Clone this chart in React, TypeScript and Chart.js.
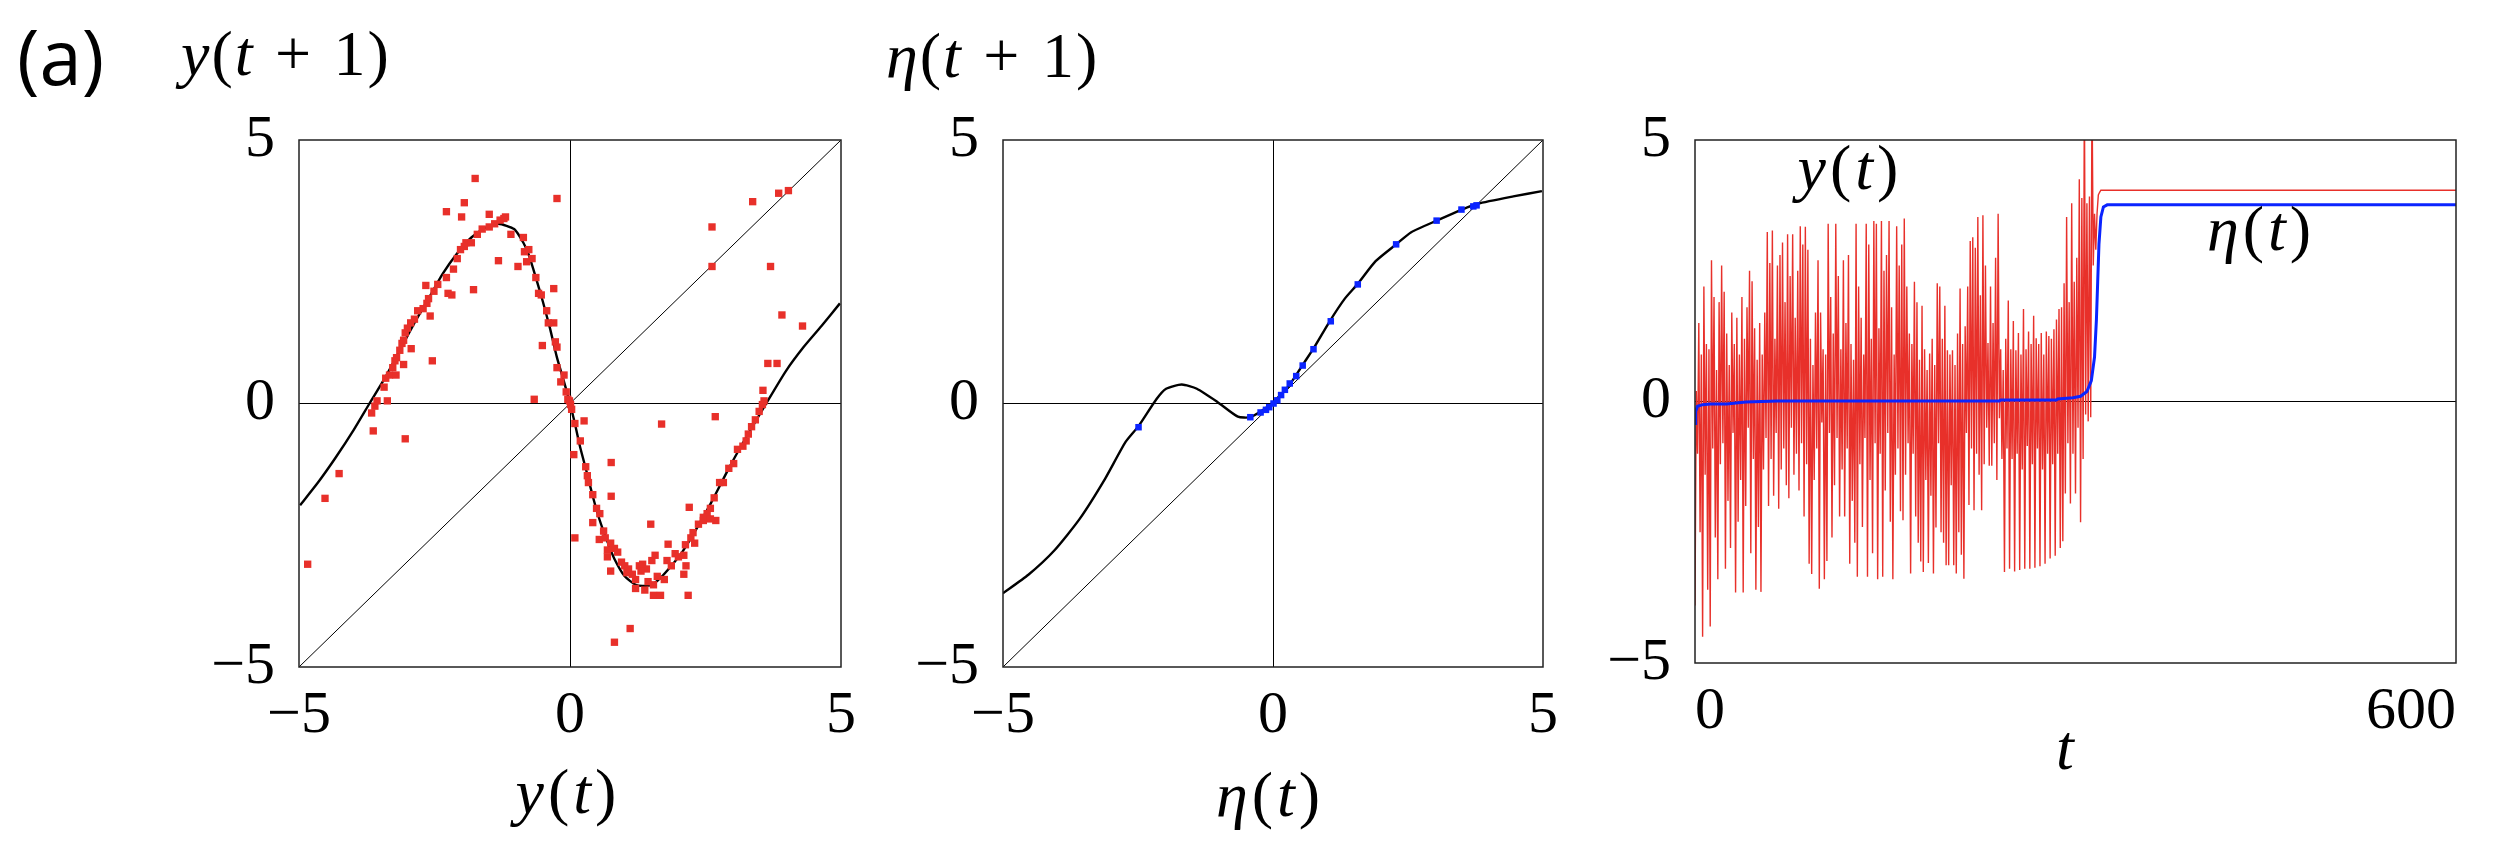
import React, { useEffect, useRef } from "react";
import { Chart, registerables } from "chart.js";

Chart.register(...registerables);

// ---------- tick values ----------
const mapTicks = [-5, 0, 5];
const timeTicks = [0, 600];
const diagonalEnds = [-5, 5];

// ---------- panel 1 : return map of y ----------
const yMapX = [-4.98, -4.65, -4.32, -3.99, -3.7, -3.4, -3.14, -2.87, -2.61, -2.35, -2.08, -1.82, -1.55, -1.32, -1.03, -0.86, -0.76, -0.63, -0.5, -0.37, -0.24, -0.11, 0.0, 0.09, 0.19, 0.29, 0.42, 0.55, 0.69, 0.82, 1.01, 1.21, 1.34, 1.51, 1.67, 1.87, 2.07, 2.27, 2.6, 2.93, 3.25, 3.62, 3.98, 4.31, 4.64, 4.98];
const yMapY = [-1.93, -1.5, -1.02, -0.5, 0.0, 0.51, 1.01, 1.53, 1.99, 2.46, 2.85, 3.15, 3.34, 3.41, 3.31, 3.05, 2.82, 2.39, 1.93, 1.43, 0.87, 0.41, 0.0, -0.38, -0.84, -1.23, -1.76, -2.22, -2.62, -2.95, -3.28, -3.44, -3.46, -3.44, -3.31, -3.08, -2.82, -2.49, -1.89, -1.23, -0.64, 0.0, 0.61, 1.07, 1.47, 1.9];

const yPoints: [number, number][] = [
  [-1.75, 4.27], [-0.24, 3.89], [-1.95, 3.81], [-2.28, 3.64], [-2.0, 3.54], [-1.49, 3.59], [-1.19, 3.54],
  [-1.32, 2.71], [-0.96, 2.6], [-1.78, 2.16], [-2.66, 2.24], [-0.3, 2.18], [-2.54, 0.81], [-0.51, 1.1],
  [-0.66, 0.08], [-3.37, 0.05], [-3.63, -0.52], [-3.04, -0.67], [-4.26, -1.33], [-4.52, -1.8], [-4.84, -3.05],
  [2.62, 3.35], [3.37, 3.83], [3.85, 3.99], [4.03, 4.04], [2.62, 2.6], [3.7, 2.6], [3.91, 1.68], [4.29, 1.47],
  [3.65, 0.76], [3.82, 0.76], [3.56, 0.25], [2.68, -0.25], [1.69, -0.39], [0.26, -0.33], [0.07, -0.97],
  [0.76, -1.12], [0.76, -1.76], [0.09, -2.55], [1.49, -2.29], [2.2, -1.97], [2.18, -3.64], [1.11, -4.27],
  [0.82, -4.53], [2.1, -3.24], [2.14, -3.08],
  [-3.66, -0.18], [-3.6, -0.05], [-3.56, 0.05], [-3.43, 0.31], [-3.4, 0.48], [-3.33, 0.54], [-3.27, 0.68],
  [-3.23, 0.81], [-3.2, 0.87], [-3.14, 1.01], [-3.1, 1.14], [-3.07, 1.2], [-3.04, 1.34], [-3.0, 1.43],
  [-2.94, 1.53], [-2.87, 1.6], [-2.81, 1.76], [-2.71, 1.8], [-2.64, 1.9], [-2.61, 1.99], [-2.58, 1.66],
  [-2.51, 2.13], [-2.44, 2.26], [-2.28, 2.39], [-2.25, 2.09], [-2.18, 2.06], [-2.15, 2.55], [-2.08, 2.75],
  [-2.02, 2.92], [-1.95, 2.98], [-1.92, 3.05], [-1.82, 3.05], [-1.71, 3.21], [-1.62, 3.31], [-1.49, 3.35],
  [-1.39, 3.41], [-1.29, 3.48], [-1.22, 3.51], [-1.09, 3.21], [-0.86, 3.15], [-0.84, 2.88], [-0.76, 2.92],
  [-0.7, 2.75], [-0.8, 2.69], [-0.63, 2.39], [-0.58, 2.09], [-0.53, 2.06], [-0.43, 1.76], [-0.4, 1.53],
  [-0.3, 1.53], [-0.27, 1.17], [-0.24, 1.07], [-0.24, 0.68], [-0.11, 0.54], [-0.17, 0.41], [-0.07, 0.22],
  [-0.04, 0.08], [-0.01, 0.05], [-2.93, 1.04], [-3.07, 0.74], [-3.21, 0.54],
  [0.01, -0.02], [0.03, -0.11], [0.09, -0.38], [0.19, -0.71], [0.29, -1.2], [0.32, -1.37], [0.34, -1.5],
  [0.42, -1.73], [0.49, -1.99], [0.55, -2.09], [0.42, -2.26], [0.62, -2.42], [0.65, -2.55], [0.54, -2.58],
  [0.75, -2.65], [0.82, -2.75], [0.88, -2.82], [0.69, -2.91], [0.95, -3.01], [1.01, -3.08], [1.08, -3.14],
  [1.15, -3.24], [1.21, -3.34], [1.28, -3.08], [1.34, -3.05], [1.41, -3.14], [1.51, -2.98], [1.57, -2.88],
  [1.61, -3.28], [1.54, -3.44], [1.44, -3.38], [1.21, -3.51], [1.38, -3.54], [1.54, -3.64], [1.67, -3.64],
  [1.74, -3.34], [1.79, -2.98], [1.81, -2.67], [1.87, -3.08], [1.94, -2.85], [2.0, -2.91], [2.1, -2.88],
  [2.13, -2.68], [2.23, -2.55], [2.27, -2.45], [2.3, -2.65], [2.37, -2.29], [2.46, -2.22], [2.53, -2.09],
  [2.59, -1.99], [2.66, -1.79], [2.69, -2.22], [2.76, -1.5], [2.83, -1.5], [2.93, -1.23], [3.02, -1.14],
  [3.09, -0.87], [3.19, -0.81], [3.25, -0.71], [3.29, -0.58], [3.35, -0.44], [3.42, -0.31], [3.49, -0.15],
  [3.55, -0.02], [3.58, 0.05], [2.46, -2.16], [2.59, -2.19], [0.75, -3.18], [0.69, -2.78], [1.05, -3.21],
  [1.31, -3.18],
];

// ---------- panel 2 : return map of eta ----------
const etaMapX = [-5.0, -4.53, -4.05, -3.58, -3.11, -2.73, -2.49, -2.16, -1.98, -1.69, -1.41, -1.03, -0.65, -0.42, -0.18, 0.01, 0.29, 0.58, 0.76, 1.05, 1.33, 1.57, 1.9, 2.28, 2.56, 3.03, 3.5, 3.79, 4.45, 4.98];
const etaMapY = [-3.6, -3.25, -2.79, -2.19, -1.43, -0.73, -0.43, 0.08, 0.28, 0.36, 0.28, 0.03, -0.25, -0.26, -0.12, 0.03, 0.33, 0.78, 1.06, 1.56, 1.99, 2.27, 2.7, 3.02, 3.25, 3.47, 3.68, 3.79, 3.93, 4.03];
const etaPointsX = [-2.49, -0.42, -0.23, -0.13, -0.07, 0.01, 0.08, 0.15, 0.22, 0.31, 0.43, 0.55, 0.75, 1.07, 1.57, 2.28, 3.03, 3.49, 3.71, 3.77];
const etaPointsY = [-0.45, -0.26, -0.17, -0.12, -0.07, 0.0, 0.06, 0.16, 0.26, 0.38, 0.52, 0.72, 1.03, 1.56, 2.26, 3.02, 3.47, 3.68, 3.74, 3.76];

// ---------- panel 3 : time series ----------
const ySeries = [
  -3.9, 0.2, -1.0, 1.5, -2.5, 0.9, -4.5, 2.2, -1.4, 1.1,
  -3.6, 1.0, -4.3, 2.7, -0.9, 2.0, -2.6, 0.6, -3.4, 1.9,
  -1.2, 2.6, -0.8, 2.1, -3.2, 1.3, -1.9, 0.7, -2.8, 1.7,
  -0.6, 1.1, -3.65, 1.6, -2.3, 0.9, -1.5, 2.0, -3.65, 1.2,
  -2.0, 1.8, -0.5, 2.5, -2.9, 2.3, -1.1, 1.4, -3.6, 0.8,
  -2.4, 1.5, -3.64, 0.9, -1.3, 1.7, -0.7, 3.24, -2.0, 2.65,
  -1.1, 3.27, -1.8, 1.2, -0.6, 2.6, -2.05, 2.8, -1.3, 3.04,
  -0.9, 1.9, -1.6, 3.2, -1.85, 2.4, -0.5, 3.2, -1.4, 1.6,
  -1.0, 2.5, -1.7, 3.35, -0.8, 3.0, -2.2, 3.34, -1.2, 2.9,
  -3.1, 1.2, -3.3, 0.7, -1.5, 1.7, -0.9, 2.7, -3.58, 1.7,
  -0.4, 1.0, -3.4, 0.9, -3.05, 3.4, -0.6, 2.0, -2.6, 1.3,
  -1.6, 3.4, -0.7, 2.4, -2.2, 1.0, -1.3, 2.7, -2.2, 1.5,
  -0.9, 2.8, -3.1, 1.1, -1.9, 0.8, -2.7, 3.4, -3.35, 2.2,
  -1.2, 1.6, -2.4, 0.9, -0.7, 3.4, -3.35, 3.0, -1.5, 1.2,
  -2.9, 3.45, -0.8, 3.4, -3.4, 1.4, -1.0, 3.45, -3.35, 2.5,
  -1.7, 2.8, -0.6, 3.45, -2.3, 1.8, -3.4, 0.9, -1.4, 3.35,
  -0.9, 2.6, -2.1, 3.0, -2.27, 3.5, -1.4, 2.2, -0.8, 1.3,
  -3.29, 1.1, -1.0, 2.29, -2.2, 1.9, -2.7, 0.8, -3.06, 1.83,
  -3.26, 1.0, -1.5, 0.6, -3.09, 0.92, -1.8, 1.2, -3.29, 0.7,
  -2.41, 2.26, -0.8, 2.2, -2.5, 1.2, -2.7, 1.83, -3.13, 0.98,
  -3.13, 0.9, -1.6, 0.98, -3.13, 0.7, -3.29, 1.3, -2.5, 2.16,
  -2.93, 1.1, -3.39, 1.44, -0.6, 2.2, -1.98, 3.07, -0.9, 3.14,
  -2.08, 2.94, -1.0, 3.53, -1.4, 2.03, -2.08, 3.56, -1.2, 2.6,
  -0.5, 1.12, -1.23, 2.2, -1.23, 1.5, -0.8, 2.75, -1.5, 3.59,
  -0.32, 1.0, -1.1, 0.6, -3.26, 1.2, -0.9, 1.93, -3.2, 1.0,
  -1.1, 1.54, -3.25, 0.98, -1.0, 1.31, -3.22, 0.9, -1.3, 1.77,
  -3.2, 1.0, -0.85, 1.34, -3.2, 1.1, -1.2, 1.64, -3.18, 1.21,
  -0.9, 1.1, -3.15, 1.31, -1.3, 0.9, -3.1, 1.34, -1.0, 1.25,
  -3.0, 1.2, -1.2, 1.38, -2.95, 1.57, -1.0, 1.77, -2.8, 1.8,
  -2.67, 2.26, -1.76, 3.53, -0.8, 1.9, -1.95, 3.79, -1.0, 2.29,
  -1.76, 2.75, -0.5, 4.25, -2.31, 3.89, -1.1, 6.0, -0.25, 3.79,
  -0.38, 3.92, -0.3, 6.0, 2.6, 3.59, 2.9, 3.6, 3.95, 4.0,
  4.04,
];
const yFixed = 4.04;
const etaT = [0, 0.5, 2, 6, 12, 25, 40, 65, 240, 241, 285, 286, 298, 304, 309, 312.5, 315, 316.5, 317.5, 318.5, 320, 322, 325, 600];
const etaV = [-0.42, -0.19, -0.09, -0.06, -0.05, -0.05, -0.01, 0.01, 0.01, 0.03, 0.03, 0.05, 0.07, 0.1, 0.19, 0.4, 0.85, 1.57, 2.29, 3.01, 3.53, 3.72, 3.76, 3.76];

// ---------- styling ----------
const SERIF = "Liberation Serif, DejaVu Serif, Noto Serif, serif";
const SANS = "Open Sans, Noto Sans, Lato, sans-serif";
const RED = "#e8302a";
const BLUE = "#0b24ff";
const TICK_FONT = { family: SERIF, size: 60 };

const fmt = (v: number) => (v < 0 ? "\u2212" + Math.abs(v) : String(v));

const framePlugin = {
  id: "frame",
  afterDatasetsDraw(chart: any) {
    const { ctx, chartArea: a } = chart;
    ctx.save();
    ctx.strokeStyle = "#222";
    ctx.lineWidth = 1.5;
    ctx.strokeRect(a.left, a.top, a.right - a.left, a.bottom - a.top);
    ctx.restore();
  },
};

function axis(kind: "x" | "y", ticks: number[], size: number, zeroLine: boolean, align: string = "center") {
  return {
    type: "linear",
    min: ticks[0],
    max: ticks[ticks.length - 1],
    afterBuildTicks: (s: any) => {
      s.ticks = ticks.map((v) => ({ value: v }));
    },
    afterFit: (s: any) => {
      if (kind === "x") s.height = size;
      else s.width = size;
    },
    grid: {
      drawTicks: false,
      lineWidth: 1,
      color: (c: any) => (zeroLine && c.tick && c.tick.value === 0 ? "#000" : "rgba(0,0,0,0)"),
    },
    border: { display: false },
    ticks: {
      padding: kind === "x" ? 13 : 24,
      color: "#000",
      font: TICK_FONT,
      maxRotation: 0,
      autoSkip: false,
      align,
      callback: (v: any) => fmt(Number(v)),
    },
  };
}

function baseOptions(padding: any, scales: any) {
  return {
    responsive: false,
    maintainAspectRatio: false,
    animation: false,
    events: [],
    layout: { padding },
    plugins: { legend: { display: false }, tooltip: { enabled: false } },
    scales,
  };
}

const diagonalData = () => diagonalEnds.map((v) => ({ x: v, y: v }));

function config1() {
  return {
    type: "scatter",
    data: {
      datasets: [
        {
          data: yPoints.map(([x, y]) => ({ x, y })),
          showLine: false,
          pointStyle: "rect",
          pointRadius: 5.2,
          pointBackgroundColor: RED,
          pointBorderWidth: 0,
          order: 0,
        },
        {
          data: yMapX.map((x, i) => ({ x, y: yMapY[i] })),
          showLine: true,
          borderColor: "#000",
          borderWidth: 2.4,
          pointRadius: 0,
          tension: 0.2,
          order: 1,
        },
        {
          data: diagonalData(),
          showLine: true,
          borderColor: "#000",
          borderWidth: 1,
          pointRadius: 0,
          order: 2,
        },
      ],
    },
    options: baseOptions(
      { top: 45, right: 39, bottom: 23, left: 0 },
      { x: axis("x", mapTicks, 70, true), y: axis("y", mapTicks, 149, true) }
    ),
    plugins: [framePlugin],
  };
}

function config2() {
  return {
    type: "scatter",
    data: {
      datasets: [
        {
          data: etaPointsX.map((x, i) => ({ x, y: etaPointsY[i] })),
          showLine: false,
          pointStyle: "rect",
          pointRadius: 4.6,
          pointBackgroundColor: BLUE,
          pointBorderWidth: 0,
          order: 0,
        },
        {
          data: etaMapX.map((x, i) => ({ x, y: etaMapY[i] })),
          showLine: true,
          borderColor: "#000",
          borderWidth: 2.4,
          pointRadius: 0,
          tension: 0.2,
          order: 1,
        },
        {
          data: diagonalData(),
          showLine: true,
          borderColor: "#000",
          borderWidth: 1,
          pointRadius: 0,
          order: 2,
        },
      ],
    },
    options: baseOptions(
      { top: 46, right: 37, bottom: 23, left: 0 },
      { x: axis("x", mapTicks, 70, true), y: axis("y", mapTicks, 143, true) }
    ),
    plugins: [framePlugin],
  };
}

function config3() {
  const red = ySeries.map((v, i) => ({ x: i, y: v }));
  red.push({ x: timeTicks[timeTicks.length - 1], y: yFixed });
  return {
    type: "scatter",
    data: {
      datasets: [
        {
          data: etaT.map((t, i) => ({ x: t, y: etaV[i] })),
          showLine: true,
          borderColor: BLUE,
          borderWidth: 3,
          pointRadius: 0,
          order: 0,
        },
        {
          data: red,
          showLine: true,
          borderColor: RED,
          borderWidth: 1.4,
          pointRadius: 0,
          order: 1,
        },
      ],
    },
    options: baseOptions(
      { top: 50, right: 43, bottom: 27, left: 0 },
      { x: axis("x", timeTicks, 70, false, "inner"), y: axis("y", mapTicks, 105, true) }
    ),
    plugins: [framePlugin],
  };
}

function Panel(props: { left: number; top: number; width: number; height: number; make: () => any }) {
  const ref = useRef<HTMLCanvasElement>(null);
  useEffect(() => {
    const chart = new Chart(ref.current as HTMLCanvasElement, props.make());
    return () => chart.destroy();
  }, []);
  return (
    <canvas
      ref={ref}
      width={props.width}
      height={props.height}
      style={{ position: "absolute", left: props.left, top: props.top, width: props.width, height: props.height }}
    />
  );
}

function MathLabel(props: { left: number; top: number; center?: boolean; size?: number; spacing?: number; children: any }) {
  return (
    <div
      style={{
        position: "absolute",
        left: props.left,
        top: props.top,
        transform: props.center ? "translateX(-50%)" : undefined,
        fontFamily: SERIF,
        fontSize: props.size ?? 64,
        letterSpacing: props.spacing ?? 2,
        lineHeight: 1,
        whiteSpace: "nowrap",
        color: "#000",
      }}
    >
      {props.children}
    </div>
  );
}

const Plus = () => <span style={{ margin: "0 0.32em" }}>+</span>;

export default function App() {
  return (
    <div
      style={{
        position: "absolute",
        left: 0,
        top: 0,
        width: 2499,
        height: 852,
        background: "#fff",
        overflow: "hidden",
      }}
    >
      <Panel left={150} top={80} width={730} height={680} make={config1} />
      <Panel left={860} top={80} width={720} height={680} make={config2} />
      <Panel left={1590} top={80} width={909} height={680} make={config3} />

      <div
        style={{
          position: "absolute",
          left: 17,
          top: 18,
          fontFamily: SANS,
          fontSize: 76,
          lineHeight: 1,
          color: "#000",
        }}
      >
        (a)
      </div>

      <MathLabel left={181} top={22}>
        <i>y</i>(<i>t</i>
        <Plus />1)
      </MathLabel>
      <MathLabel left={886} top={24}>
        <i>η</i>(<i>t</i>
        <Plus />1)
      </MathLabel>
      <MathLabel left={568} top={760} center spacing={4}>
        <i>y</i>(<i>t</i>)
      </MathLabel>
      <MathLabel left={1270} top={763} center spacing={4}>
        <i>η</i>(<i>t</i>)
      </MathLabel>
      <MathLabel left={2066} top={716} center>
        <i>t</i>
      </MathLabel>
      <MathLabel left={1850} top={136} center spacing={4}>
        <i>y</i>(<i>t</i>)
      </MathLabel>
      <MathLabel left={2261} top={197} center spacing={4}>
        <i>η</i>(<i>t</i>)
      </MathLabel>
    </div>
  );
}
